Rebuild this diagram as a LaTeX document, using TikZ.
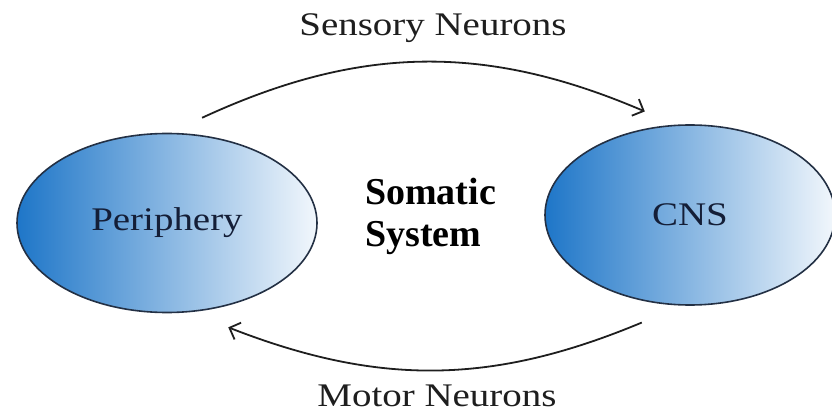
\documentclass[tikz,border=0pt]{standalone}
\usepackage{fontspec}
\setmainfont[FakeStretch=1.18]{Liberation Serif}
\newfontfamily\somafont{Liberation Serif}
\usetikzlibrary{arrows.meta,shapes.geometric}

\definecolor{ovaldark}{RGB}{30,118,200}
\definecolor{ovallight}{RGB}{242,247,252}
\definecolor{ovalline}{RGB}{35,48,68}
\definecolor{ovaltext}{RGB}{20,30,55}
\definecolor{arrowgray}{RGB}{30,30,30}

\begin{document}
\begin{tikzpicture}[
                x=1pt, y=1pt,
                oval/.style={
                    draw=ovalline,
                    line width=1.6pt,
                    ellipse,
                    left color=ovaldark,
                    right color=ovallight,
                    inner sep=0pt,
                    text=ovaltext,
                    font=\fontsize{33}{40}\selectfont
                },
                neuronlabel/.style={
                    text=arrowgray,
                    inner sep=0pt,
                    font=\fontsize{33}{40}\selectfont
                },
                arrow/.style={
                    -{Straight Barb[length=9pt,width=18pt]},
                    line width=1.8pt,
                    draw=arrowgray
                }
            ]
                \useasboundingbox (0,0) rectangle (832,-417);

                \node[oval, minimum width=300pt, minimum height=179pt] (periphery) at (167,-223) {Periphery};
                \node[oval, minimum width=290pt, minimum height=180pt] (cns) at (690,-215) {CNS};

                \node[align=left, anchor=west, inner sep=0pt,
                      font=\somafont\bfseries\fontsize{38}{42}\selectfont] (somatic) at (365,-216) {Somatic\\System};

                \node[neuronlabel] (sensory) at (433,-28) {Sensory Neurons};
                \node[neuronlabel] (motor) at (437,-396) {Motor Neurons};

                % afferent and efferent paths
                \draw[arrow] ([xshift=3pt,yshift=17pt]periphery.70) to[bend left=24] ([xshift=-13pt,yshift=15pt]cns.110);
                \draw[arrow] ([xshift=-16pt,yshift=-19pt]cns.250) to[bend left=22] ([xshift=12pt,yshift=-19pt]periphery.300);
        \end{tikzpicture}
\end{document}
